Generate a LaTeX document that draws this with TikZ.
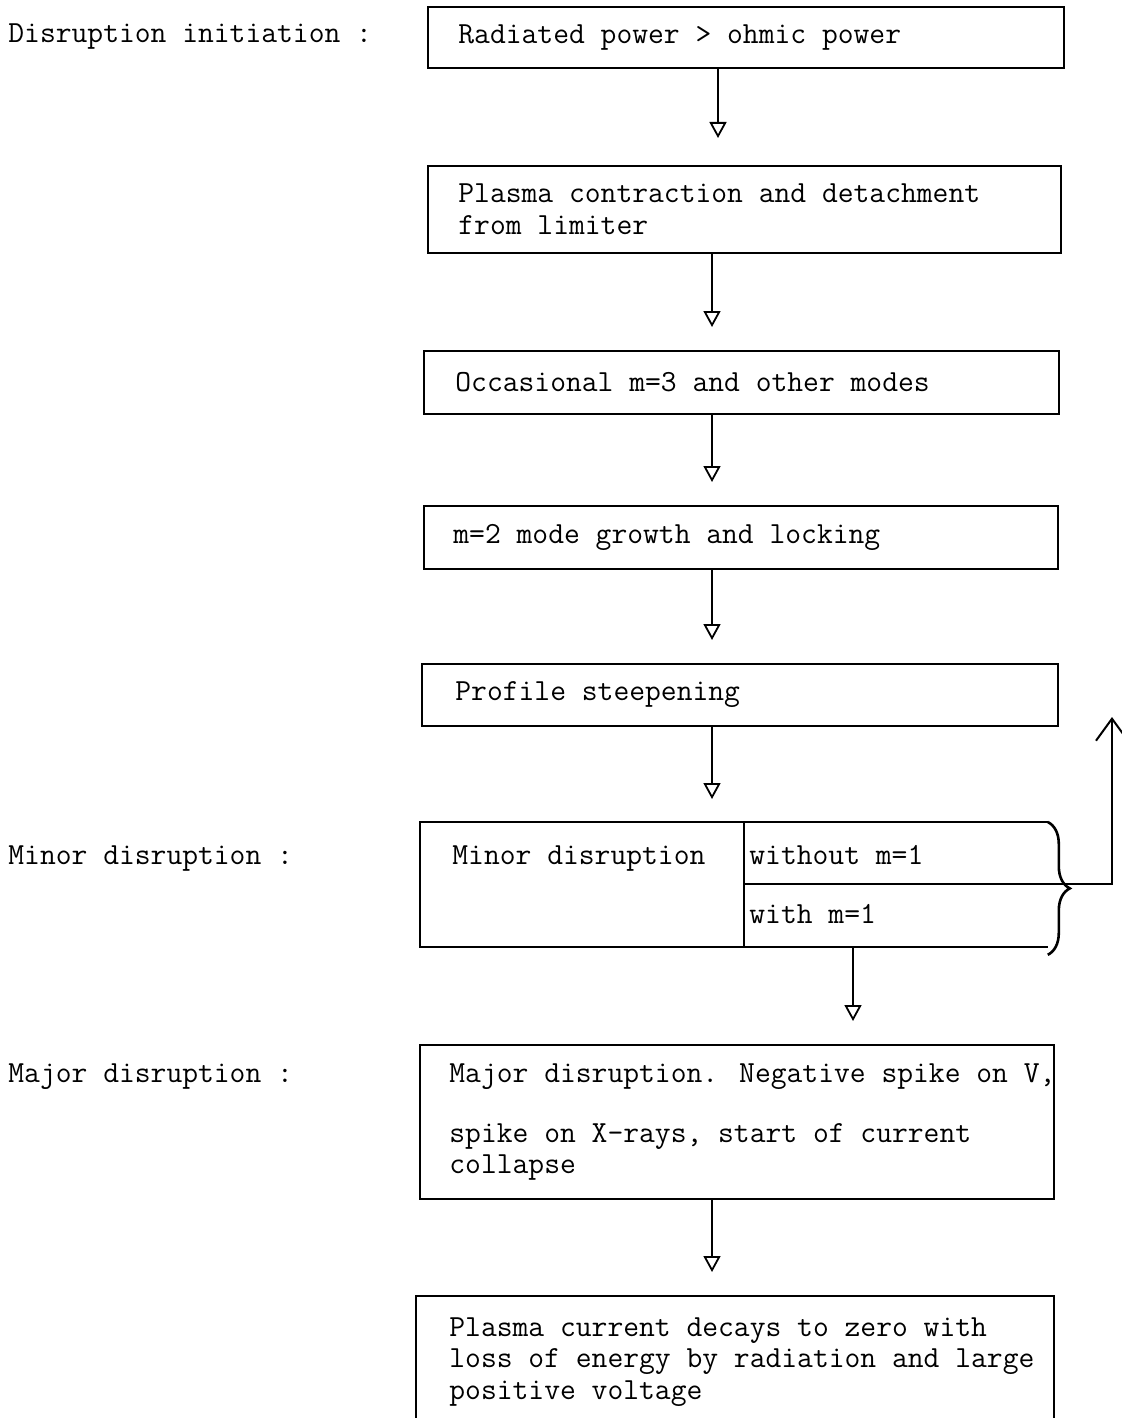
\documentclass[tikz,border=0pt]{standalone}
\usepackage{fontspec}
\usetikzlibrary{arrows.meta,decorations.pathreplacing}
\begin{document}
\begin{tikzpicture}[x=0.5pt,y=-0.5pt,
  every node/.style={font=\ttfamily\fontsize{15.35}{15.8}\selectfont},
  stagebox/.style={draw, line width=1pt, anchor=north west, inner sep=0pt},
  txt/.style={anchor=west, align=left, inner sep=0pt},
  sidelabel/.style={anchor=west, inner sep=0pt},
  flow/.style={line width=0.9pt, shorten >=11.5pt,
    -{Triangle[open, length=8pt, width=8.5pt, line width=0.9pt]}},
  riser/.style={line width=1pt,
    -{Straight Barb[length=11pt, width=16pt, line width=1pt]}},
  curly/.style={decorate, decoration={brace, amplitude=11pt}, line width=1.3pt}
]
\useasboundingbox (0,0) rectangle (1122,1418);

% stage boxes
\node[stagebox, minimum width=318pt,   minimum height=30.5pt] (b1) at (427,6) {};
\node[stagebox, minimum width=316.5pt, minimum height=43.5pt] (b2) at (427,165) {};
\node[stagebox, minimum width=317.5pt, minimum height=31.5pt] (b3) at (423,350) {};
\node[stagebox, minimum width=317pt,   minimum height=31.5pt] (b4) at (423,505) {};
\node[stagebox, minimum width=318pt,   minimum height=31pt]   (b5) at (421,663) {};
\node[anchor=north west, inner sep=0pt, minimum width=313.5pt, minimum height=62pt] (minor) at (420,822) {};
\node[stagebox, minimum width=317pt,   minimum height=77pt]   (major) at (419,1044) {};
\node[stagebox, minimum width=319pt,   minimum height=66pt]   (last) at (415,1295) {};

% texts inside the boxes
\node[txt] (t1) at ([xshift=15.5pt]b1.west) {Radiated power > ohmic power};
\node[txt] (t2) at ([xshift=15.5pt]b2.west) {Plasma contraction and detachment\\from limiter};
\node[txt] (t3) at ([xshift=16pt]b3.west) {Occasional m=3 and other modes};
\node[txt] (t4) at ([xshift=15pt]b4.west) {m=2 mode growth and locking};
\node[txt] (t5) at ([xshift=17pt]b5.west) {Profile steepening};
\node[anchor=base west, inner sep=0pt] (tminor) at (452,864) {Minor disruption};
\node[anchor=base west, inner sep=0pt] (twithout) at (749,864) {without m=1};
\node[anchor=base west, inner sep=0pt] (twith) at (749,923) {with m=1};
\node[txt] (tmajor) at ([xshift=15pt]major.west)
  {Major disruption. Negative spike on V,\\[14.2pt]spike on X-rays, start of current\\collapse};
\node[txt] (tlast) at ([xshift=17pt]last.west)
  {Plasma current decays to zero with\\loss of energy by radiation and large\\positive voltage};

% phase labels on the left
\node[sidelabel] (l1) at (8,37) {Disruption initiation :};
\node[anchor=base west, inner sep=0pt] (l2) at (8,864) {Minor disruption :};
\node[sidelabel] (l3) at (8,1077) {Major disruption :};

% minor disruption box: open on the right, closed by a brace
\draw[line width=1pt] (minor.north east) -- (minor.north west) -- (minor.south west) -- (minor.south east);
\coordinate (dx) at (744,0);
\draw[line width=0.9pt] (minor.north -| dx) -- (minor.south -| dx);
\draw[curly] (minor.north east) -- ([yshift=-4pt]minor.south east);
\coordinate (split) at (744,884);
\coordinate (ret) at (1112,717);
\draw[riser] (split) -| (ret);

% sequence arrows
\coordinate (ax1) at (718,0);
\coordinate (ax) at (712,0);
\coordinate (axm) at (853,0);
\draw[flow, shorten >=13.5pt] (b1.south -| ax1) -- (b2.north -| ax1);
\draw[flow] (b2.south -| ax) -- (b3.north -| ax);
\draw[flow] (b3.south -| ax) -- (b4.north -| ax);
\draw[flow] (b4.south -| ax) -- (b5.north -| ax);
\draw[flow] (b5.south -| ax) -- (minor.north -| ax);
\draw[flow] (minor.south -| axm) -- (major.north -| axm);
\draw[flow] (major.south -| ax) -- (last.north -| ax);
\end{tikzpicture}
\end{document}
